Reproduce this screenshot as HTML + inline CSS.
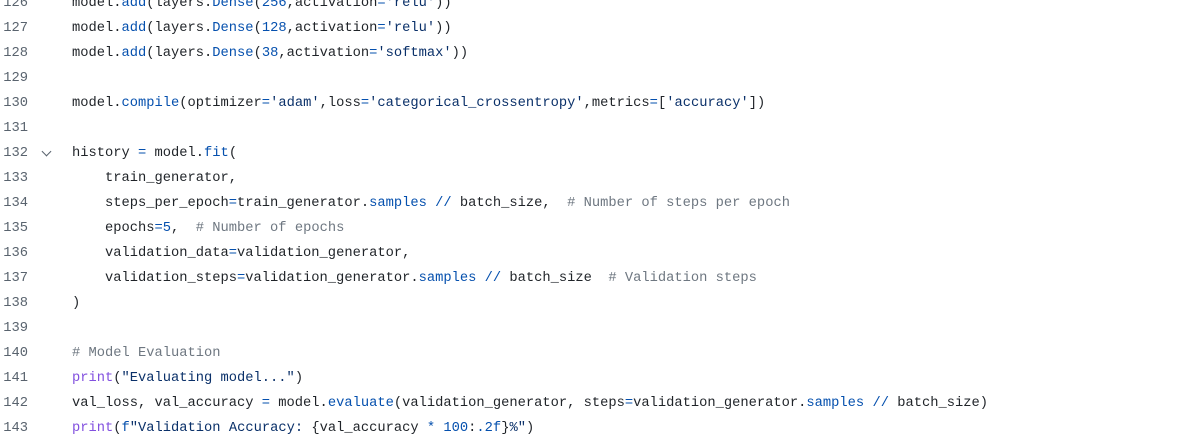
<!DOCTYPE html>
<html><head><meta charset="utf-8"><style>
html,body{margin:0;padding:0;background:#fff;width:1184px;height:447px;overflow:hidden;}
.wrap{position:relative;top:-9.5px;}
.l{height:25px;line-height:25px;white-space:pre;font-family:"Liberation Mono",monospace;font-size:13.76px;color:#1f2328;position:relative;}
.n{position:absolute;left:0;width:28px;text-align:right;color:#59636e;}
.c{position:absolute;left:72px;}
.b{color:#0550ae}.s{color:#0a3069}.m{color:#6e7781}.p{color:#8250df}
.chev{position:absolute;left:43px;top:7px;width:6px;height:6px;border-right:1.5px solid #59636e;border-bottom:1.5px solid #59636e;transform:rotate(45deg);}
</style></head><body><div class="wrap">
<div class="l"><span class="n">126</span><span class="c">model.<span class="b">add</span>(layers.<span class="b">Dense</span>(<span class="b">256</span>,activation<span class="b">=</span><span class="s">'relu'</span>))</span></div>
<div class="l"><span class="n">127</span><span class="c">model.<span class="b">add</span>(layers.<span class="b">Dense</span>(<span class="b">128</span>,activation<span class="b">=</span><span class="s">'relu'</span>))</span></div>
<div class="l"><span class="n">128</span><span class="c">model.<span class="b">add</span>(layers.<span class="b">Dense</span>(<span class="b">38</span>,activation<span class="b">=</span><span class="s">'softmax'</span>))</span></div>
<div class="l"><span class="n">129</span></div>
<div class="l"><span class="n">130</span><span class="c">model.<span class="b">compile</span>(optimizer<span class="b">=</span><span class="s">'adam'</span>,loss<span class="b">=</span><span class="s">'categorical_crossentropy'</span>,metrics<span class="b">=</span>[<span class="s">'accuracy'</span>])</span></div>
<div class="l"><span class="n">131</span></div>
<div class="l"><span class="n">132</span><span class="chev"></span><span class="c">history <span class="b">=</span> model.<span class="b">fit</span>(</span></div>
<div class="l"><span class="n">133</span><span class="c">    train_generator,</span></div>
<div class="l"><span class="n">134</span><span class="c">    steps_per_epoch<span class="b">=</span>train_generator.<span class="b">samples</span> <span class="b">//</span> batch_size,  <span class="m"># Number of steps per epoch</span></span></div>
<div class="l"><span class="n">135</span><span class="c">    epochs<span class="b">=5</span>,  <span class="m"># Number of epochs</span></span></div>
<div class="l"><span class="n">136</span><span class="c">    validation_data<span class="b">=</span>validation_generator,</span></div>
<div class="l"><span class="n">137</span><span class="c">    validation_steps<span class="b">=</span>validation_generator.<span class="b">samples</span> <span class="b">//</span> batch_size  <span class="m"># Validation steps</span></span></div>
<div class="l"><span class="n">138</span><span class="c">)</span></div>
<div class="l"><span class="n">139</span></div>
<div class="l"><span class="n">140</span><span class="c"><span class="m"># Model Evaluation</span></span></div>
<div class="l"><span class="n">141</span><span class="c"><span class="p">print</span>(<span class="s">"Evaluating model..."</span>)</span></div>
<div class="l"><span class="n">142</span><span class="c">val_loss, val_accuracy <span class="b">=</span> model.<span class="b">evaluate</span>(validation_generator, steps<span class="b">=</span>validation_generator.<span class="b">samples</span> <span class="b">//</span> batch_size)</span></div>
<div class="l"><span class="n">143</span><span class="c"><span class="p">print</span>(<span class="b">f</span><span class="s">"Validation Accuracy: </span>{val_accuracy <span class="b">*</span> <span class="b">100</span>:<span class="b">.2f</span>}<span class="s">%"</span>)</span></div>
</div></body></html>
